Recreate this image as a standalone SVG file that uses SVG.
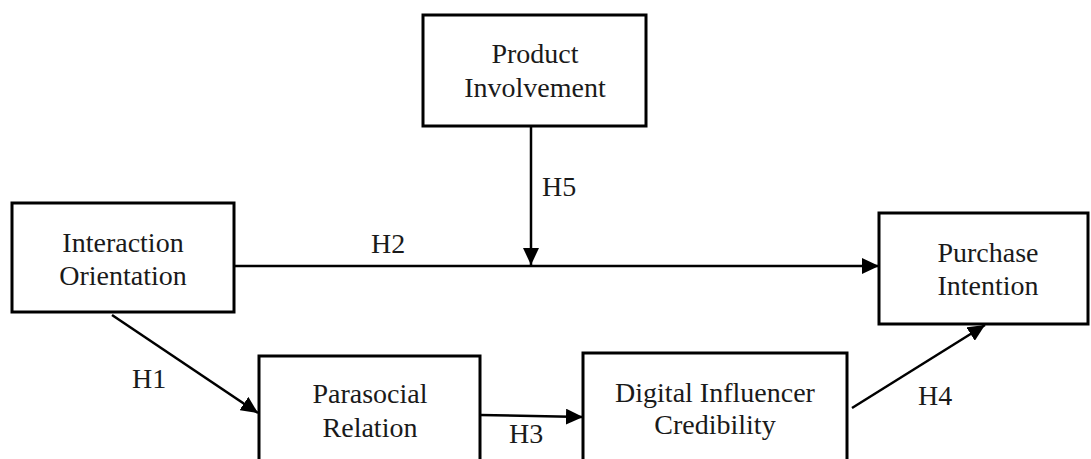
<svg xmlns="http://www.w3.org/2000/svg" width="1091" height="459" viewBox="0 0 1091 459">
  <style>
    .box { fill: #ffffff; stroke: #000000; stroke-width: 3; }
    .lbl { font-family: "Liberation Serif", "DejaVu Serif", serif; font-size: 28px; fill: #1a1a1a; text-anchor: middle; }
    .hyp { font-family: "Liberation Serif", "DejaVu Serif", serif; font-size: 28px; fill: #1a1a1a; }
    .conn { stroke: #000000; stroke-width: 2.5; fill: none; }
  </style>
  <defs>
    <marker id="arrow" markerUnits="userSpaceOnUse" markerWidth="18" markerHeight="16" refX="17" refY="8" orient="auto">
      <path d="M0,0 L17,8 L0,16 z" fill="#000000"/>
    </marker>
  </defs>
  <rect width="1091" height="459" fill="#ffffff"/>

  <g id="node-product-involvement">
    <rect class="box" x="423" y="15" width="223" height="111"/>
    <text class="lbl" x="535" y="63">Product</text>
    <text class="lbl" x="535" y="97">Involvement</text>
  </g>

  <g id="node-interaction-orientation">
    <rect class="box" x="12" y="203" width="222" height="109"/>
    <text class="lbl" x="123" y="252">Interaction</text>
    <text class="lbl" x="123" y="285">Orientation</text>
  </g>

  <g id="node-purchase-intention">
    <rect class="box" x="879" y="213" width="209" height="111"/>
    <text class="lbl" x="988" y="262">Purchase</text>
    <text class="lbl" x="988" y="295">Intention</text>
  </g>

  <g id="node-parasocial-relation">
    <rect class="box" x="259" y="356" width="221" height="120"/>
    <text class="lbl" x="370" y="403">Parasocial</text>
    <text class="lbl" x="370" y="437">Relation</text>
  </g>

  <g id="node-digital-influencer-credibility">
    <rect class="box" x="583" y="353" width="264" height="120"/>
    <text class="lbl" x="715" y="402">Digital Influencer</text>
    <text class="lbl" x="715" y="434">Credibility</text>
  </g>

  <g id="connectors">
    <line class="conn" x1="234" y1="266" x2="879" y2="266" marker-end="url(#arrow)"/>
    <line class="conn" x1="531" y1="126" x2="531" y2="265" marker-end="url(#arrow)"/>
    <line class="conn" x1="112" y1="315" x2="258" y2="413" marker-end="url(#arrow)"/>
    <line class="conn" x1="480" y1="415" x2="583" y2="417" marker-end="url(#arrow)"/>
    <line class="conn" x1="852" y1="408" x2="985" y2="325" marker-end="url(#arrow)"/>
    <text class="hyp" x="542" y="196">H5</text>
    <text class="hyp" x="371" y="253">H2</text>
    <text class="hyp" x="132" y="388">H1</text>
    <text class="hyp" x="509" y="443">H3</text>
    <text class="hyp" x="918" y="405">H4</text>
  </g>
</svg>
